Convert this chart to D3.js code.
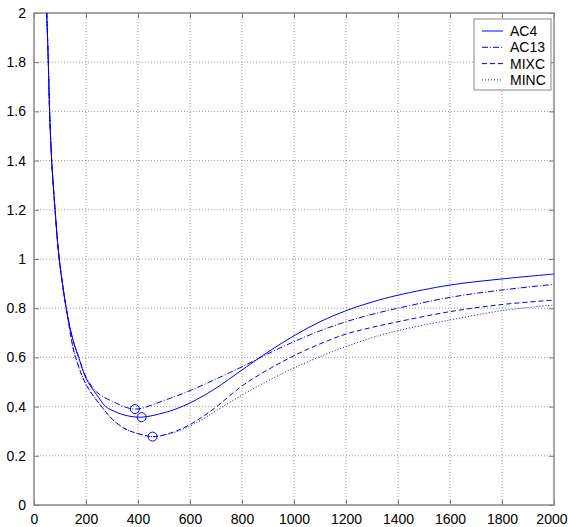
<!DOCTYPE html>
<html>
<head>
<meta charset="utf-8">
<script src="https://cdn.jsdelivr.net/npm/d3@7"></script>
<style>
  body { margin: 0; background: #fff; }
  svg { display: block; font-family: "Liberation Sans", Arial, sans-serif; }
</style>
</head>
<body>
<svg id="chart" width="568" height="527"></svg>
<script>
// curve values
var xAC4 = [49, 55, 60, 68, 81, 97, 124, 150, 172, 200, 240, 276, 300, 350, 414, 500, 550, 600, 650, 700, 800, 900, 1000, 1100, 1200, 1300, 1400, 1600, 1800, 2000];
var yAC4 = [2.0, 1.8, 1.6, 1.4, 1.2, 1.0, 0.8, 0.67, 0.6, 0.515, 0.45, 0.40, 0.385, 0.365, 0.357, 0.375, 0.392, 0.415, 0.443, 0.475, 0.549, 0.622, 0.688, 0.745, 0.79, 0.825, 0.853, 0.894, 0.919, 0.939];

var xAC13 = [49, 55, 60, 68, 81, 97, 124, 150, 172, 200, 240, 300, 388, 500, 600, 700, 800, 900, 1000, 1100, 1200, 1300, 1400, 1600, 1800, 2000];
var yAC13 = [2.0, 1.8, 1.6, 1.4, 1.2, 1.0, 0.8, 0.67, 0.6, 0.52, 0.46, 0.422, 0.39, 0.425, 0.465, 0.512, 0.562, 0.615, 0.664, 0.708, 0.745, 0.775, 0.8, 0.844, 0.874, 0.897];

var xMIXC = [49, 55, 60, 68, 81, 97, 124, 150, 160, 200, 260, 300, 350, 400, 456, 500, 550, 600, 650, 700, 800, 900, 1000, 1100, 1200, 1300, 1400, 1600, 1800, 2000];
var yMIXC = [2.0, 1.8, 1.6, 1.4, 1.2, 1.0, 0.8, 0.64, 0.6, 0.49, 0.40, 0.35, 0.31, 0.29, 0.278, 0.285, 0.302, 0.327, 0.36, 0.398, 0.484, 0.55, 0.607, 0.655, 0.695, 0.722, 0.745, 0.786, 0.815, 0.833];

var xMINC = [49, 55, 60, 68, 81, 97, 124, 150, 160, 200, 260, 300, 350, 400, 456, 500, 550, 600, 650, 700, 800, 900, 1000, 1100, 1200, 1300, 1400, 1600, 1800, 2000];
var yMINC = [2.0, 1.8, 1.6, 1.4, 1.2, 1.0, 0.8, 0.64, 0.6, 0.49, 0.40, 0.35, 0.31, 0.29, 0.278, 0.284, 0.299, 0.321, 0.35, 0.383, 0.447, 0.505, 0.557, 0.603, 0.644, 0.68, 0.709, 0.752, 0.79, 0.813];

// circled minima
var minX = [388, 414, 456];
var minY = [0.39, 0.357, 0.278];

var seriesNames = ["AC4", "AC13", "MIXC", "MINC"];
var seriesDash = ["", "6,2,1,2", "5,3", "1,2"];

var xTicks = [0, 200, 400, 600, 800, 1000, 1200, 1400, 1600, 1800, 2000];
var yTicks = [0, 0.2, 0.4, 0.6, 0.8, 1, 1.2, 1.4, 1.6, 1.8, 2];

var svg = d3.select("#chart"),
	margin = {top: 13, right: 14, bottom: 22, left: 34},
	width = +svg.attr("width") - margin.left - margin.right,
	height = +svg.attr("height") - margin.top - margin.bottom,
	g = svg.append("g").attr("transform", "translate(" + margin.left + "," + margin.top + ")");

var x = d3.scaleLinear().domain([0, 2000]).range([0, width]);
var y = d3.scaleLinear().domain([0, 2]).range([height, 0]);

svg.append("defs").append("clipPath").attr("id", "clip")
	.append("rect").attr("width", width).attr("height", height);

// grid
g.append("g").selectAll("line").data(xTicks.slice(1, -1)).enter().append("line")
	.attr("x1", d => x(d)).attr("x2", d => x(d))
	.attr("y1", 0).attr("y2", height)
	.attr("stroke", "#999").attr("stroke-dasharray", "1,2");
g.append("g").selectAll("line").data(yTicks.slice(1, -1)).enter().append("line")
	.attr("y1", d => y(d)).attr("y2", d => y(d))
	.attr("x1", 0).attr("x2", width)
	.attr("stroke", "#999").attr("stroke-dasharray", "1,2");

// axes (ticks inward, box all round)
function styleAxis(sel) {
	sel.select(".domain").remove();
	sel.selectAll(".tick line").attr("stroke", "#777");
	sel.selectAll(".tick text").attr("fill", "#000").style("font-size", "14px");
}
var xAxisG = g.append("g").attr("transform", "translate(0," + height + ")")
	.call(d3.axisBottom(x).tickValues(xTicks).tickSizeInner(-5).tickSizeOuter(0).tickPadding(9).tickFormat(d3.format("d")))
	.call(styleAxis);
// last label sits against the page edge, as in the original
xAxisG.selectAll(".tick text").filter(d => d === 2000)
	.attr("text-anchor", "end").attr("x", 13);
g.append("g")
	.call(d3.axisTop(x).tickValues(xTicks).tickSizeInner(-5).tickSizeOuter(0).tickFormat(""))
	.call(styleAxis);
g.append("g")
	.call(d3.axisLeft(y).tickValues(yTicks).tickSizeInner(-5).tickSizeOuter(0).tickPadding(8).tickFormat(d => d % 1 === 0 ? d3.format("d")(d) : d3.format(".1f")(d)))
	.call(styleAxis);
g.append("g").attr("transform", "translate(" + width + ",0)")
	.call(d3.axisRight(y).tickValues(yTicks).tickSizeInner(-5).tickSizeOuter(0).tickFormat(""))
	.call(styleAxis);

g.append("rect").attr("width", width).attr("height", height)
	.attr("fill", "none").attr("stroke", "#888").attr("stroke-width", 1.5);

// curves
var allX = [xAC4, xAC13, xMIXC, xMINC],
	allY = [yAC4, yAC13, yMIXC, yMINC];

var line = d3.line()
	.x(d => x(d[0]))
	.y(d => y(d[1]))
	.curve(d3.curveCatmullRom.alpha(0.5));

var curves = g.append("g").attr("clip-path", "url(#clip)");
seriesNames.forEach(function(name, i) {
	var pts = allX[i].map((v, j) => [v, allY[i][j]]);
	curves.append("path")
		.datum(pts)
		.attr("fill", "none")
		.attr("stroke", "#0000ff")
		.attr("stroke-width", 1)
		.attr("stroke-dasharray", seriesDash[i] || null)
		.attr("d", line);
});

curves.selectAll("circle").data(minX).enter().append("circle")
	.attr("cx", d => x(d))
	.attr("cy", (d, i) => y(minY[i]))
	.attr("r", 4.5)
	.attr("fill", "none")
	.attr("stroke", "#0000ff")
	.attr("stroke-width", 1);

// legend
var lg = svg.append("g").attr("transform", "translate(474,19)");
lg.append("rect").attr("width", 77).attr("height", 71)
	.attr("fill", "#fff").attr("stroke", "#888").attr("stroke-width", 1);
seriesNames.forEach(function(name, i) {
	var yy = 12 + i * 16.3;
	lg.append("line").attr("x1", 8).attr("x2", 29).attr("y1", yy).attr("y2", yy)
		.attr("stroke", "#0000ff").attr("stroke-width", 1)
		.attr("stroke-dasharray", seriesDash[i] || null);
	lg.append("text").attr("x", 36).attr("y", yy).attr("dy", "0.35em")
		.style("font-size", "14px").text(name);
});
</script>
</body>
</html>
